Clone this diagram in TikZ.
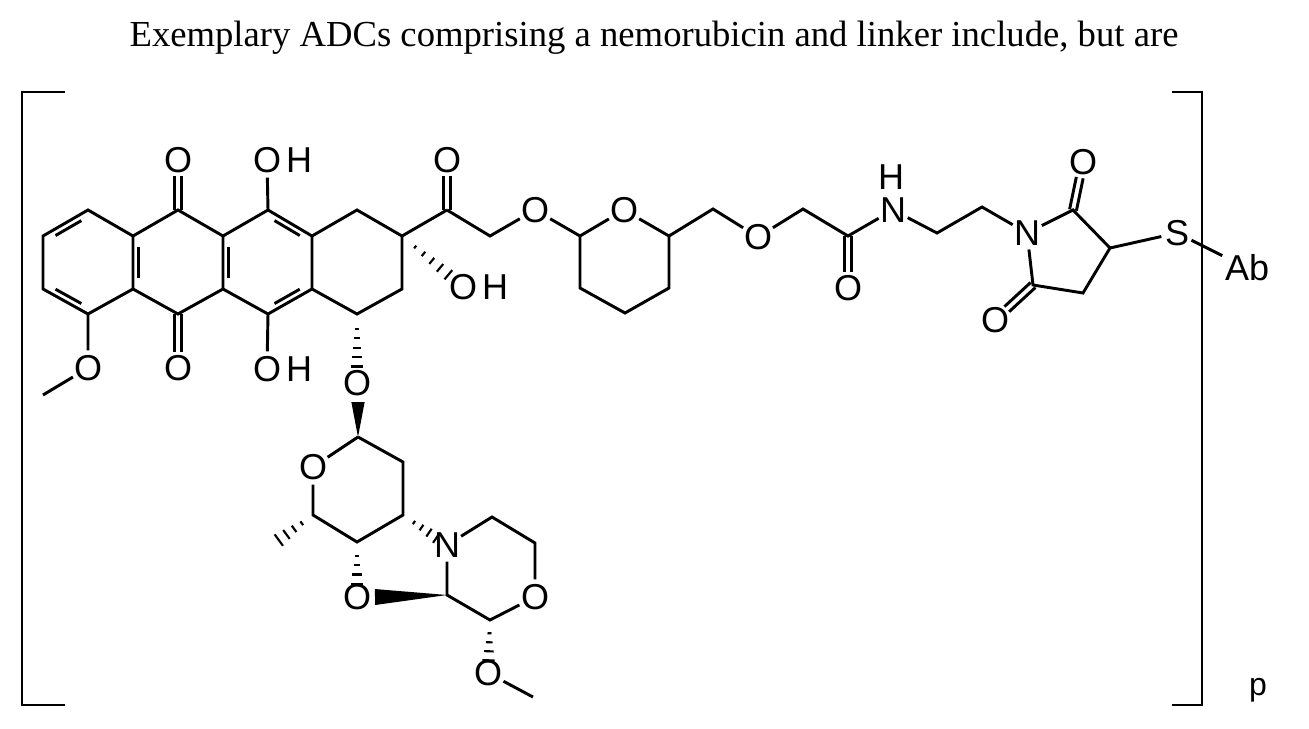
\documentclass[tikz,border=0pt]{standalone}
\usepackage{fontspec}
\setmainfont{Liberation Serif}
\newfontfamily\af{Liberation Sans}
\usetikzlibrary{calc}
\newcommand\hw[4]{\foreach \i in {1,...,#3}{\pgfmathsetmacro\tt{0.08+0.68*\i/#3}\pgfmathsetmacro\ww{#4*\tt}\draw[hash] ($(#1)!\tt!(#2)!\ww pt!90:(#2)$) -- ($(#1)!\tt!(#2)!\ww pt!-90:(#2)$);}}
\newcommand\sw[3]{\fill (#1) -- ($(#2)!#3!90:(#1)$) -- ($(#2)!#3!-90:(#1)$) -- cycle;}
\newcommand\dbl[2]{\draw[shorten >=12pt] ($(#1)!2.6pt!90:(#2)$) -- ($(#2)!2.6pt!-90:(#1)$); \draw[shorten >=12pt] ($(#1)!2.6pt!-90:(#2)$) -- ($(#2)!2.6pt!90:(#1)$);}
\newcommand\inb[3]{\draw ($(#1)!0.17!(#2)!0.13!(#3)$) -- ($(#2)!0.17!(#1)!0.13!(#3)$);}
\begin{document}
\begin{tikzpicture}[x=0.75pt,y=-0.75pt,line width=2.2pt,line join=miter,
  lab/.style={font=\af\fontsize{27}{27}\selectfont,circle,inner sep=-1.5pt},
  hh/.style={font=\af\fontsize{27}{27}\selectfont,inner sep=0pt,anchor=west},
  hash/.style={line width=1.6pt}]
\useasboundingbox (0,0) rectangle (1309,728);
\node[font=\fontsize{27.5}{28}\selectfont] (title) at (654,38) {Exemplary ADCs comprising a nemorubicin and linker include, but are};
% coordinates
\foreach \n/\x/\y in {a1/88/210,a2/43/236,a3/43/289,a4/88/314,a5/133/289,a6/133/236,
 b1/178/210,b3/223/236,b4/223/289,b5/178/314,c1/268/210,c3/312/236,c4/312/289,c5/268/314,
 d1/357/210,d2/402/236,d3/402/289,d4/357/314,k/447/210,m/490/236,
 p1/580/236,p5/669/236,p4/669/288,p3/625/313,p2/580/288,
 q1/713/209,q2/803/209,q3/848/236,q4/937/233,q5/982/207,
 s2/1073/210,s3/1110/248,s4/1083/293,s5/1033/285,
 g1/358/437,g5/313/515,g4/357/542,g3/403/515,g2/403/462,gme/268/548,
 r1/492/517,r2/535/543,r3/490/620,r4/447/595,rme/533/697,ome/43/395,
 cA/88/262,cB/178/262,cC/268/262}
 \coordinate (\n) at (\x,\y);
% labels
\node[lab] (O1) at (178,160) {O};
\node[lab] (O2) at (178,368) {O};
\node[lab] (O3) at (267,160) {O}; \node[hh] at (O3.east) {H};
\node[lab] (O4) at (267,369) {O}; \node[hh] at (O4.east) {H};
\node[lab] (O5) at (88,368) {O};
\node[lab] (O6) at (447,160) {O};
\node[lab] (O7) at (463,287) {O}; \node[hh] at (O7.east) {H};
\node[lab] (O8) at (535,210) {O};
\node[lab] (O9) at (624,210) {O};
\node[lab] (O10) at (758,237) {O};
\node[lab] (O11) at (848,288) {O};
\node[lab] (N1) at (893,210) {N};
\node[font=\af\fontsize{27}{27}\selectfont,inner sep=0pt] (H1) at (891,177) {H};
\node[lab] (N2) at (1027,233) {N};
\node[lab] (O12) at (1083,162) {O};
\node[lab] (O13) at (995,320) {O};
\node[lab] (S) at (1177,233) {S};
\node[font=\af\fontsize{27}{27}\selectfont,inner sep=1pt] (Ab) at (1247,268) {Ab};
\node[lab] (O14) at (357,383) {O};
\node[lab] (O15) at (313,467) {O};
\node[lab] (N3) at (447,545) {N};
\node[lab] (O16) at (357,597) {O};
\node[lab] (O17) at (535,597) {O};
\node[lab] (O18) at (488,673) {O};
\node[font=\af\fontsize{24}{24}\selectfont] (pp) at (1258,690) {p};
% rings A-D
\draw (a1)--(a2)--(a3)--(a4)--(a5)--(a6)--cycle;
\inb{a1}{a2}{cA} \inb{a3}{a4}{cA} \inb{a5}{a6}{cB}
\draw (a6)--(b1)--(b3)--(b4)--(b5)--(a5);
\draw (b3)--(c1)--(c3)--(c4)--(c5)--(b4);
\inb{b3}{b4}{cC} \inb{c1}{c3}{cC} \inb{c4}{c5}{cC}
\draw (c3)--(d1)--(d2)--(d3)--(d4)--(c4);
\dbl{b1}{O1} \dbl{b5}{O2}
\draw (c1)--(O3); \draw (c5)--(O4);
\draw (a4)--(O5)--(ome);
% side chain
\draw (d2)--(k); \dbl{k}{O6}
\draw (k)--(m)--(O8)--(p1)--(O9)--(p5)--(p4)--(p3)--(p2)--(p1);
\draw (p5)--(q1)--(O10)--(q2)--(q3)--(N1)--(q4)--(q5)--(N2)--(s2)--(s3)--(s4)--(s5)--(N2);
\dbl{q3}{O11} \dbl{s2}{O12} \dbl{s5}{O13}
\draw (s3)--(S)--(Ab);
% stereo
\hw{d2}{O7}{5}{6}
\hw{d4}{O14}{5}{6}
\sw{g1}{358,402}{5pt}
\draw (g1)--(O15)--(g5)--(g4)--(g3)--(g2)--(g1);
\hw{g5}{gme}{4}{7}
\hw{g4}{O16}{4}{6}
\hw{g3}{N3}{4}{6}
\draw (N3)--(r1)--(r2)--(O17)--(r3)--(r4)--(N3);
\sw{r4}{375,597}{6pt}
\hw{r3}{O18}{4}{6}
\draw (O18)--(rme);
% brackets
\draw (65,92)--(22,92)--(22,705)--(65,705);
\draw (1172,92)--(1202,92)--(1202,705)--(1172,705);
\end{tikzpicture}
\end{document}
